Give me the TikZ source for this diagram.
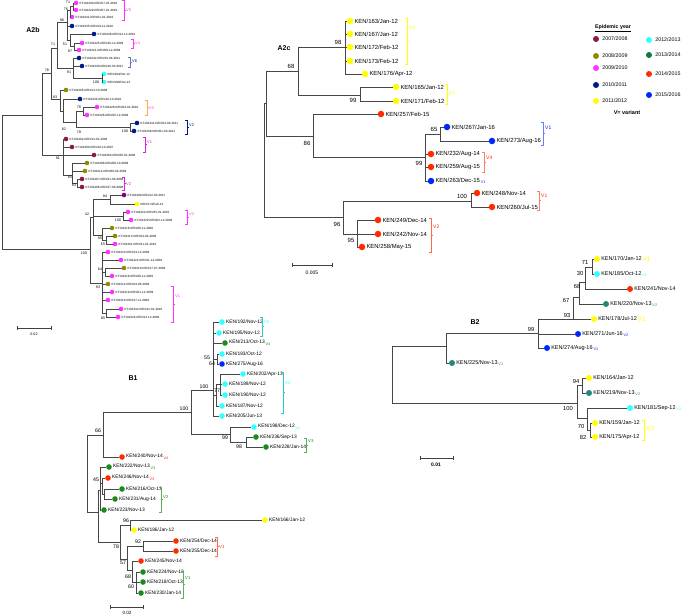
\documentclass[tikz,border=0pt]{standalone}
\usepackage{fontspec}
\setmainfont{Liberation Sans}
\usetikzlibrary{positioning}
\definecolor{yrA}{HTML}{8E1B3F}
\definecolor{yrB}{HTML}{8C8C00}
\definecolor{yrC}{HTML}{FF33FF}
\definecolor{yrD}{HTML}{001A8C}
\definecolor{yrE}{HTML}{FFFF00}
\definecolor{yrF}{HTML}{33FFFF}
\definecolor{yrG}{HTML}{0B7A3A}
\definecolor{yrH}{HTML}{FF2A00}
\definecolor{yrI}{HTML}{0026FF}
\definecolor{yrJ}{HTML}{800080}
\definecolor{grnB}{HTML}{1A8A1A}
\definecolor{tealB}{HTML}{1F8A7A}
\colorlet{brkV1}{yrC!70!yrJ}
\colorlet{brkV3}{orange!70}
\colorlet{brkV6}{yrD!60!white}

% leaf: name, x, y, colour, text
\newcommand{\tleaf}[5]{%
  \node[dot, fill=#4] (#1) at (#2,#3) {};
  \node[lbl, anchor=west] (#1-t) at (#1.east) {#5};}
% variant bracket: name, x, y1, y2, colour, label y, text, text colour
\newcommand{\vbrk}[8]{%
  \draw[brk, #5] (#2-2,#3) -- (#2,#3) -- (#2,#4) -- (#2-2,#4);
  \draw[brk, #5] (#2,{(#3+#4)/2}) -- (#2+2,{(#3+#4)/2});
  \node[vlab, text=#8, anchor=west] (#1) at (#2+1.5,#6) {#7};}
\newcommand{\vsub}[2]{\,\raisebox{-1.6pt}{\fontsize{3.8}{4}\selectfont\textcolor{#1}{#2}}}
\newcommand{\vbig}[2]{\,\raisebox{-1pt}{\fontsize{6.5}{7}\selectfont\textcolor{#1}{#2}}}

\begin{document}
\begin{tikzpicture}[x=1pt, y=-1pt,
    br/.style={draw=black!72, line width=0.55pt},
    dot/.style={circle, inner sep=0pt, minimum size=4.6pt, draw=none},
    lbl/.style={inner sep=0.8pt, font=\fontsize{3.05}{3.4}\selectfont},
    bs/.style={inner sep=0pt, font=\fontsize{3.6}{4}\selectfont},
    brk/.style={line width=0.45pt},
    vlab/.style={inner sep=0.5pt, font=\fontsize{4}{4}\selectfont},
    title/.style={font=\fontsize{7}{8}\selectfont\bfseries},
    sbar/.style={draw=black!75, line width=0.55pt},
    lgt/.style={inner sep=0pt, font=\fontsize{5.3}{6}\selectfont},
  ]
  \useasboundingbox (0,0) rectangle (685,614);

  % ---------------- A2b ----------------
  \node[title] (tA2b) at (33,30) {A2b};
  \tleaf{L1}{76}{3}{yrC}{KT191330-KEN/27-01-2010}
  \tleaf{L2}{76}{10}{yrC}{KT191329-KEN/07-01-2010}
  \tleaf{L3}{72}{17}{yrC}{KT191331-KEN/01-01-2010}
  \tleaf{L4}{72}{26}{yrD}{KT191335-KEN/19-11-2010}
  \tleaf{L5}{94}{34}{yrD}{KT191336-KEN/13-12-2010}
  \tleaf{L6}{82}{43}{yrC}{KT191325-KEN/16-12-2009}
  \tleaf{L7}{79}{50}{yrC}{KT191321-KEN/09-12-2009}
  \tleaf{L8}{79}{58}{yrD}{KT191342-KEN/16-04-2011}
  \tleaf{L9}{82}{66}{yrD}{KT191340-KEN/16-03-2011}
  \tleaf{L10}{104}{74}{yrF}{KEN/184/Oct-12}
  \tleaf{L11}{104}{82}{yrF}{KEN/186/Nov-12}
  \tleaf{L12}{66}{90}{yrB}{KT191305-KEN/13-10-2008}
  \tleaf{L13}{80}{99}{yrD}{KT191334-KEN/16-10-2010}
  \tleaf{L14}{97}{107}{yrC}{KT191328-KEN/04-01-2010}
  \tleaf{L15}{87}{115}{yrC}{KT191326-KEN/25-12-2009}
  \tleaf{L16}{137}{123}{yrD}{KT191341-KEN/24-04-2011}
  \tleaf{L17}{134}{131}{yrD}{KT191339-KEN/01-03-2011}
  \tleaf{L18}{66}{139}{yrA}{KT191302-KEN/13-01-2008}
  \tleaf{L19}{72}{147}{yrA}{KT191300-KEN/18-10-2007}
  \tleaf{L20}{94}{155}{yrA}{KT191303-KEN/26-01-2008}
  \tleaf{L21}{87}{163}{yrB}{KT191308-KEN/06-10-2008}
  \tleaf{L22}{85}{171}{yrB}{KT191312-KEN/09-02-2009}
  \tleaf{L23}{82}{179}{yrA}{KT191307-KEN/31-08-2008}
  \tleaf{L24}{82}{187}{yrA}{KT191306-KEN/27-08-2008}
  \tleaf{L25}{124}{195}{yrJ}{KT191309-KEN/12-03-2011}
  \tleaf{L26}{137}{204}{yrE}{KEN/174/Feb-12}
  \tleaf{L27}{128}{212}{yrC}{KT191322-KEN/25-01-2010}
  \tleaf{L28}{131}{220}{yrC}{KT191320-KEN/02-12-2009}
  \tleaf{L29}{112}{228}{yrB}{KT191316-KEN/06-11-2008}
  \tleaf{L30}{115}{236}{yrB}{KT191313-KEN/24-04-2009}
  \tleaf{L31}{115}{244}{yrC}{KT191301-KEN/21-01-2010}
  \tleaf{L32}{108}{252}{yrC}{KT191323-KEN/13-12-2009}
  \tleaf{L33}{121}{260}{yrC}{KT191322-KEN/11-12-2009}
  \tleaf{L34}{124}{268}{yrB}{KT191319-KEN/17-07-2009}
  \tleaf{L35}{112}{276}{yrC}{KT191318-KEN/26-11-2009}
  \tleaf{L36}{108}{284}{yrB}{KT191314-KEN/24-06-2009}
  \tleaf{L37}{112}{292}{yrC}{KT191319-KEN/01-12-2009}
  \tleaf{L38}{108}{300}{yrC}{KT191318-KEN/17-11-2009}
  \tleaf{L39}{121}{309}{yrC}{KT191332-KEN/12-01-2010}
  \tleaf{L40}{118}{317}{yrC}{KT191324-KEN/13-12-2009}

  \coordinate (ar) at (2,182);
  \coordinate (aU) at (42,115);
  \coordinate (a78) at (51,73);
  \coordinate (a71) at (57,48);
  \coordinate (a98) at (67,22);
  \coordinate (a76) at (70,10);
  \coordinate (a71t) at (73,6);
  \coordinate (a51) at (70,40);
  \coordinate (a97) at (74,46);
  \coordinate (a91b) at (73,68);
  \coordinate (a100c) at (102,78);
  \coordinate (a83) at (60,99);
  \coordinate (a82) at (63,111);
  \coordinate (a78c) at (76,122);
  \coordinate (a76b) at (83,111);
  \coordinate (a100d) at (130,127);
  \coordinate (a91) at (63,155);
  \coordinate (a85) at (72,175);
  \coordinate (a83b) at (77,183);
  \coordinate (aL) at (90,249);
  \coordinate (a42) at (93,217);
  \coordinate (a94) at (110,199);
  \coordinate (a100e) at (123,216);
  \coordinate (a95) at (102,235);
  \coordinate (a65) at (106,240);
  \coordinate (a93) at (102,283);
  \coordinate (a64) at (105,272);
  \coordinate (a85b) at (106,313);

  \draw[br] (ar) |- (aU) (ar) |- (aL);
  \draw[br] (aU) |- (a78) (aU) |- (a91);
  \draw[br] (a78) |- (a71) (a78) |- (a83);
  \draw[br] (a71) |- (a98) (a71) |- (a91b);
  \draw[br] (a98) |- (a76) (a98) |- (L4) (a98) |- (a51);
  \draw[br] (a76) |- (a71t) (a76) |- (L3);
  \draw[br] (a71t) |- (L1) (a71t) |- (L2);
  \draw[br] (a51) |- (L5) (a51) |- (a97);
  \draw[br] (a97) |- (L6) (a97) |- (L7);
  \draw[br] (a91b) |- (L8) (a91b) |- (L9) (a91b) |- (a100c);
  \draw[br] (a100c) |- (L10) (a100c) |- (L11);
  \draw[br] (a83) |- (L12) (a83) |- (a82);
  \draw[br] (a82) |- (L13) (a82) |- (a78c);
  \draw[br] (a78c) |- (a76b) (a78c) |- (a100d);
  \draw[br] (a76b) |- (L14) (a76b) |- (L15);
  \draw[br] (a100d) |- (L16) (a100d) |- (L17);
  \draw[br] (a91) |- (L18) (a91) |- (L19) (a91) |- (L20) (a91) |- (a85);
  \draw[br] (a85) |- (L21) (a85) |- (L22) (a85) |- (a83b);
  \draw[br] (a83b) |- (L23) (a83b) |- (L24);
  \draw[br] (aL) |- (a42) (aL) |- (a93);
  \draw[br] (a42) |- (a94) (a42) |- (a100e) (a42) |- (a95);
  \draw[br] (a94) |- (L25) (a94) |- (L26);
  \draw[br] (a100e) |- (L27) (a100e) |- (L28);
  \draw[br] (a95) |- (L29) (a95) |- (a65);
  \draw[br] (a65) |- (L30) (a65) |- (L31);
  \draw[br] (a93) |- (L32) (a93) |- (L33) (a93) |- (a64) (a93) |- (L36)
            (a93) |- (L37) (a93) |- (L38) (a93) |- (a85b);
  \draw[br] (a64) |- (L34) (a64) |- (L35);
  \draw[br] (a85b) |- (L39) (a85b) |- (L40);

  % bootstrap values
  \node[bs] (s1) at (68,2) {71};
  \node[bs] (s2) at (66,9) {76};
  \node[bs] (s3) at (62,20) {98};
  \node[bs] (s4) at (65,44) {51};
  \node[bs] (s5) at (70,51) {97};
  \node[bs] (s6) at (53,44) {71};
  \node[bs] (s7) at (47,70) {78};
  \node[bs] (s8) at (69,72) {91};
  \node[bs] (s9) at (96,82) {100};
  \node[bs] (s10) at (55,97) {83};
  \node[bs] (s11) at (79,107) {76};
  \node[bs] (s12) at (64,129) {82};
  \node[bs] (s13) at (79,132) {78};
  \node[bs] (s14) at (125,131) {100};
  \node[bs] (s15) at (58,158) {91};
  \node[bs] (s16) at (70,177) {85};
  \node[bs] (s17) at (74,185) {83};
  \node[bs] (s18) at (105,196) {94};
  \node[bs] (s19) at (87,214) {42};
  \node[bs] (s20) at (118,220) {100};
  \node[bs] (s21) at (100,238) {95};
  \node[bs] (s22) at (103,244) {65};
  \node[bs] (s23) at (84,253) {100};
  \node[bs] (s24) at (100,269) {64};
  \node[bs] (s25) at (98,287) {93};
  \node[bs] (s26) at (103,318) {85};

  \vbrk{v1}{124}{0}{20}{yrC}{10}{V5}{yrC}
  \vbrk{v2}{133}{39}{48}{yrC}{43}{V4}{yrC}
  \vbrk{v3}{130}{57}{67}{brkV6}{61}{V6}{yrD}
  \vbrk{v4}{147}{100}{115}{brkV3}{108}{V3}{yrC}
  \vbrk{v5}{187}{120}{134}{yrD}{125}{V2}{yrD}
  \vbrk{v6}{145}{137}{152}{brkV1}{142}{V1}{brkV1}
  \vbrk{v7}{124}{177}{190}{brkV1}{184}{V2}{brkV1}
  \vbrk{v8}{187}{210}{224}{yrC}{214}{V2}{yrC}
  \vbrk{v9}{173}{286}{322}{yrC}{296}{V1}{yrC}

  \draw[sbar] (17,326) -- (17,330) (17,328) -- (51,328) (51,326) -- (51,330);
  \node[bs] (sb1) at (34,334) {0.02};

  % ---------------- A2c ----------------
  \begin{scope}[dot/.append style={minimum size=6.5pt},
      lbl/.style={inner sep=0.9pt, font=\fontsize{5.9}{6.5}\selectfont},
      bs/.style={inner sep=0pt, font=\fontsize{6}{7}\selectfont},
      vlab/.style={inner sep=0.5pt, font=\fontsize{5}{5}\selectfont}]
    \node[title] (tA2c) at (284,48) {A2c};
    \tleaf{K163}{350}{21}{yrE}{KEN/163/Jan-12}
    \tleaf{K167}{350}{34}{yrE}{KEN/167/Jan-12}
    \tleaf{K172}{350}{47}{yrE}{KEN/172/Feb-12}
    \tleaf{K173}{350}{61}{yrE}{KEN/173/Feb-12}
    \tleaf{K176}{365}{74}{yrE}{KEN/176/Apr-12}
    \tleaf{K165}{396}{87}{yrE}{KEN/165/Jan-12}
    \tleaf{K171}{396}{101}{yrE}{KEN/171/Feb-12}
    \tleaf{K257}{381}{114}{yrH}{KEN/257/Feb-15}
    \tleaf{K267}{447}{127}{yrI}{KEN/267/Jan-16}
    \tleaf{K273}{492}{141}{yrI}{KEN/273/Aug-16}
    \tleaf{K232}{431}{154}{yrH}{KEN/232/Aug-14}
    \tleaf{K259}{431}{167}{yrH}{KEN/259/Aug-15}
    \tleaf{K263}{431}{181}{yrI}{KEN/263/Dec-15\vsub{yrI}{V1}}
    \tleaf{K248}{477}{193}{yrH}{KEN/248/Nov-14}
    \tleaf{K260}{492}{207}{yrH}{KEN/260/Jul-15}
    \tleaf{K249}{378}{220}{yrH}{KEN/249/Dec-14}
    \tleaf{K242}{378}{234}{yrH}{KEN/242/Nov-14}
    \tleaf{K258}{362}{247}{yrH}{KEN/258/May-15}

    \coordinate (cr) at (264,160);
    \coordinate (cU) at (266,103);
    \coordinate (c68) at (298,71);
    \coordinate (c98) at (345,47);
    \coordinate (c99) at (360,95);
    \coordinate (c86) at (313,136);
    \coordinate (c99b) at (425,157);
    \coordinate (c65) at (440,134);
    \coordinate (c96) at (343,217);
    \coordinate (c100) at (471,201);
    \coordinate (c95) at (357,234);

    \draw[br] (cr) |- (cU) (cr) |- (c96);
    \draw[br] (cU) |- (c68) (cU) |- (c86);
    \draw[br] (c68) |- (c98) (c68) |- (c99);
    \draw[br] (c98) |- (K163) (c98) |- (K167) (c98) |- (K172) (c98) |- (K173) (c98) |- (K176);
    \draw[br] (c99) |- (K165) (c99) |- (K171);
    \draw[br] (c86) |- (K257) (c86) |- (c99b);
    \draw[br] (c99b) |- (c65) (c99b) |- (K232) (c99b) |- (K259) (c99b) |- (K263);
    \draw[br] (c65) |- (K267) (c65) |- (K273);
    \draw[br] (c96) |- (c100) (c96) |- (c95);
    \draw[br] (c100) |- (K248) (c100) |- (K260);
    \draw[br] (c95) |- (K249) (c95) |- (K242) (c95) |- (K258);

    \node[bs] (cs1) at (338,42) {98};
    \node[bs] (cs2) at (291,66) {68};
    \node[bs] (cs3) at (353,100) {99};
    \node[bs] (cs4) at (307,143) {86};
    \node[bs] (cs5) at (434,129) {65};
    \node[bs] (cs6) at (419,163) {99};
    \node[bs] (cs7) at (462,196) {100};
    \node[bs] (cs8) at (337,224) {96};
    \node[bs] (cs9) at (351,240) {95};

    \vbrk{w1}{407}{18}{64}{yrE}{28}{V2}{yrE}
    \vbrk{w2}{447}{84}{104}{yrE}{93}{V1}{yrE}
    \vbrk{w3}{543}{122}{145}{yrI!60}{128}{V1}{yrI}
    \vbrk{w4}{484}{152}{172}{yrH!60}{158}{V4}{yrH}
    \vbrk{w5}{539}{191}{210}{yrH!60}{196}{V1}{yrH}
    \vbrk{w6}{431}{218}{252}{yrH!70}{227}{V2}{yrH}

    \draw[sbar] (292,263) -- (292,267) (292,265) -- (332,265) (332,263) -- (332,267);
    \node[bs, font=\fontsize{5}{6}\selectfont] (sb2) at (312,273) {0.005};
  \end{scope}

  % ---------------- legend ----------------
  \node[lgt, font=\fontsize{5.3}{6}\selectfont\bfseries] (lg) at (613,28) {\underline{Epidemic year}};
  \node[dot, minimum size=6pt, fill=yrA] (g1) at (596,39) {};
  \node[lgt, right=3pt of g1] (g1t) {2007/2008};
  \node[dot, minimum size=6pt, fill=yrB] (g2) at (596,56) {};
  \node[lgt, right=3pt of g2] (g2t) {2008/2009};
  \node[dot, minimum size=6pt, fill=yrC] (g3) at (596,68) {};
  \node[lgt, right=3pt of g3] (g3t) {2009/2010};
  \node[dot, minimum size=6pt, fill=yrD] (g4) at (596,85) {};
  \node[lgt, right=3pt of g4] (g4t) {2010/2011};
  \node[dot, minimum size=6pt, fill=yrE] (g5) at (596,101) {};
  \node[lgt, right=3pt of g5] (g5t) {2011/2012};
  \node[dot, minimum size=6pt, fill=yrF] (g6) at (649,40) {};
  \node[lgt, right=3pt of g6] (g6t) {2012/2013};
  \node[dot, minimum size=6pt, fill=yrG] (g7) at (649,55) {};
  \node[lgt, right=3pt of g7] (g7t) {2013/2014};
  \node[dot, minimum size=6pt, fill=yrH] (g8) at (649,74) {};
  \node[lgt, right=3pt of g8] (g8t) {2014/2015};
  \node[dot, minimum size=6pt, fill=yrI] (g9) at (649,95) {};
  \node[lgt, right=3pt of g9] (g9t) {2015/2016};
  \node[lgt, font=\fontsize{5.5}{6}\selectfont\bfseries] (vv) at (627,113) {V= variant};

  % ---------------- B1 ----------------
  \begin{scope}[dot/.append style={minimum size=5.6pt},
      lbl/.style={inner sep=0.9pt, font=\fontsize{4.9}{5.5}\selectfont},
      bs/.style={inner sep=0pt, font=\fontsize{5.2}{6}\selectfont},
      vlab/.style={inner sep=0.5pt, font=\fontsize{4.3}{5}\selectfont}]
    \node[title] (tB1) at (133,378) {B1};
    \tleaf{B192}{222}{322}{yrF}{KEN/192/Nov-12}
    \tleaf{B195}{219}{333}{yrF}{KEN/195/Nov-12}
    \tleaf{B213}{225}{343}{grnB}{KEN/213/Oct-13\vsub{grnB}{V4}}
    \tleaf{B183}{222}{354}{yrF}{KEN/183/Oct-12}
    \tleaf{B275}{222}{364}{yrI}{KEN/275/Aug-16}
    \tleaf{B202}{243}{374}{yrF}{KEN/202/Apr-13}
    \tleaf{B189}{225}{384}{yrF}{KEN/189/Nov-12}
    \tleaf{B190}{225}{395}{yrF}{KEN/190/Nov-12}
    \tleaf{B187}{222}{406}{yrF}{KEN/187/Nov-12}
    \tleaf{B205}{222}{416}{yrF}{KEN/205/Jun-13}
    \tleaf{B198}{254}{427}{yrF}{KEN/198/Dec-12\vsub{yrF}{V1}}
    \tleaf{B236}{256}{437}{grnB}{KEN/236/Sep-13}
    \tleaf{B228}{266}{447}{grnB}{KEN/228/Jan-14}
    \tleaf{B240}{122}{457}{yrH}{KEN/240/Nov-14\vsub{yrH}{V4}}
    \tleaf{B222}{109}{467}{grnB}{KEN/222/Nov-13\vsub{grnB}{V3}}
    \tleaf{B246}{108}{478}{yrH}{KEN/246/Nov-14\vsub{yrH}{V3}}
    \tleaf{B216}{122}{489}{grnB}{KEN/216/Oct-13}
    \tleaf{B231}{115}{499}{grnB}{KEN/231/Aug-14}
    \tleaf{B223}{104}{510}{grnB}{KEN/223/Nov-13}
    \tleaf{B166}{265}{520}{yrE}{KEN/166/Jan-12}
    \tleaf{B186}{134}{530}{yrE}{KEN/186/Jan-12}
    \tleaf{B254}{176}{541}{yrH}{KEN/254/Dec-14}
    \tleaf{B255}{176}{551}{yrH}{KEN/255/Dec-14}
    \tleaf{B245}{141}{561}{yrH}{KEN/245/Nov-14}
    \tleaf{B224}{143}{572}{grnB}{KEN/224/Nov-13}
    \tleaf{B218}{143}{582}{grnB}{KEN/218/Oct-13}
    \tleaf{B230}{141}{593}{grnB}{KEN/230/Jan-14}

    \coordinate (br0) at (87,474);
    \coordinate (b66) at (103,435);
    \coordinate (b100b) at (191,412);
    \coordinate (b100a) at (213,390);
    \coordinate (b64) at (217,359);
    \coordinate (b77) at (216,395);
    \coordinate (b222) at (220,384);
    \coordinate (b99) at (230,434);
    \coordinate (b98) at (246,442);
    \coordinate (bx) at (98,512);
    \coordinate (b45) at (100,490);
    \coordinate (b45b) at (102,483);
    \coordinate (b45c) at (104,494);
    \coordinate (b78) at (120,542);
    \coordinate (b96) at (130,525);
    \coordinate (b57) at (127,559);
    \coordinate (b92) at (143,546);
    \coordinate (b68) at (132,570);
    \coordinate (b60) at (136,582);

    \draw[br] (br0) |- (b66) (br0) |- (bx);
    \draw[br] (b66) |- (b100b) (b66) |- (B240);
    \draw[br] (b100b) |- (b100a) (b100b) |- (b99);
    \draw[br] (b100a) |- (B192) (b100a) |- (B195) (b100a) |- (B213) (b100a) |- (b64)
              (b100a) |- (b77) (b100a) |- (B205);
    \draw[br] (b64) |- (B183) (b64) |- (B275);
    \draw[br] (b77) |- (b222) (b77) |- (B187);
    \draw[br] (b222) |- (B202) (b222) |- (B189) (b222) |- (B190);
    \draw[br] (b99) |- (B198) (b99) |- (b98);
    \draw[br] (b98) |- (B236) (b98) |- (B228);
    \draw[br] (bx) |- (b45) (bx) |- (b78);
    \draw[br] (b45) |- (B222) (b45) |- (b45b) (b45) |- (B223);
    \draw[br] (b45b) |- (B246) (b45b) |- (b45c);
    \draw[br] (b45c) |- (B216) (b45c) |- (B231);
    \draw[br] (b78) |- (b96) (b78) |- (b57);
    \draw[br] (b96) |- (B166) (b96) |- (B186);
    \draw[br] (b57) |- (b92) (b57) |- (b68);
    \draw[br] (b92) |- (B254) (b92) |- (B255);
    \draw[br] (b68) |- (B245) (b68) |- (b60);
    \draw[br] (b60) |- (B224) (b60) |- (B218) (b60) |- (B230);

    \node[bs] (bs1) at (207,358) {55};
    \node[bs] (bs2) at (212,364) {64};
    \node[bs] (bs3) at (204,387) {100};
    \node[bs] (bs4) at (217,391) {77};
    \node[bs] (bs5) at (184,409) {100};
    \node[bs] (bs6) at (225,438) {99};
    \node[bs] (bs7) at (239,447) {98};
    \node[bs] (bs8) at (98,431) {66};
    \node[bs] (bs9) at (96,480) {45};
    \node[bs] (bs10) at (126,521) {96};
    \node[bs] (bs11) at (138,542) {92};
    \node[bs] (bs12) at (116,547) {78};
    \node[bs] (bs13) at (123,563) {57};
    \node[bs] (bs14) at (128,577) {68};
    \node[bs] (bs15) at (131,587) {60};

    \vbrk{u1}{262}{317}{336}{yrF!80!black}{322}{V2}{yrF}
    \vbrk{u2}{283}{372}{413}{yrF!80!black}{383}{V2}{yrF}
    \vbrk{u3}{306}{438}{452}{grnB!70}{441}{V3}{grnB}
    \vbrk{u4}{161}{487}{512}{grnB!70}{497}{V2}{grnB}
    \vbrk{u5}{217}{537}{556}{yrH!70}{547}{V1}{yrH}
    \vbrk{u6}{183}{571}{598}{grnB!70}{578}{V1}{grnB}

    \draw[sbar] (110,605) -- (110,609) (110,607) -- (143,607) (143,605) -- (143,609);
    \node[bs, font=\fontsize{4.6}{5}\selectfont] (sb3) at (127,612.5) {0.02};
  \end{scope}

  % ---------------- B2 ----------------
  \begin{scope}[dot/.append style={minimum size=6pt},
      lbl/.style={inner sep=0.9pt, font=\fontsize{5.5}{6}\selectfont},
      bs/.style={inner sep=0pt, font=\fontsize{5.8}{6.5}\selectfont},
      vlab/.style={inner sep=0.5pt, font=\fontsize{6.5}{7}\selectfont}]
    \node[title] (tB2) at (475,322) {B2};
    \tleaf{K170}{597}{259}{yrE}{KEN/170/Jan-12\vbig{yrE}{V1}}
    \tleaf{K185}{597}{274}{yrF}{KEN/185/Oct-12\vsub{yrF}{V1}}
    \tleaf{K241}{630}{289}{yrH}{KEN/241/Nov-14}
    \tleaf{K220}{606}{304}{tealB}{KEN/220/Nov-13\vsub{tealB}{V2}}
    \tleaf{K178}{594}{319}{yrE}{KEN/178/Jul-12\vbig{yrE}{V1}}
    \tleaf{K271}{578}{334}{yrI}{KEN/271/Jun-16\vsub{yrI}{V2}}
    \tleaf{K274}{547}{348}{yrI}{KEN/274/Aug-16\vsub{yrI}{V1}}
    \tleaf{K225}{452}{363}{tealB}{KEN/225/Nov-13\vsub{tealB}{V1}}
    \tleaf{K164}{589}{378}{yrE}{KEN/164/Jan-12}
    \tleaf{K219}{589}{393}{tealB}{KEN/219/Nov-13\vsub{tealB}{V2}}
    \tleaf{K181}{630}{408}{yrF}{KEN/181/Sep-12\vsub{yrF}{V2}}
    \tleaf{K159}{595}{423}{yrE}{KEN/159/Jan-12}
    \tleaf{K175}{595}{437}{yrE}{KEN/175/Apr-12}

    \coordinate (dr) at (392,375);
    \coordinate (d446) at (446,346);
    \coordinate (d99) at (538,333);
    \coordinate (d93) at (573,319);
    \coordinate (d67) at (579,297);
    \coordinate (d68) at (585,282);
    \coordinate (d71) at (592,267);
    \coordinate (d100) at (577,403);
    \coordinate (d94) at (582,385);
    \coordinate (d70) at (587,418);
    \coordinate (d82) at (590,430);

    \draw[br] (dr) |- (d446) (dr) |- (d100);
    \draw[br] (d446) |- (d99) (d446) |- (K225);
    \draw[br] (d99) |- (d93) (d99) |- (K271) (d99) |- (K274);
    \draw[br] (d93) |- (d67) (d93) |- (K178);
    \draw[br] (d67) |- (d68) (d67) |- (K220);
    \draw[br] (d68) |- (d71) (d68) |- (K241);
    \draw[br] (d71) |- (K170) (d71) |- (K185);
    \draw[br] (d100) |- (d94) (d100) |- (d70);
    \draw[br] (d94) |- (K164) (d94) |- (K219);
    \draw[br] (d70) |- (K181) (d70) |- (d82);
    \draw[br] (d82) |- (K159) (d82) |- (K175);

    \node[bs] (ds1) at (585,262) {71};
    \node[bs] (ds2) at (580,273) {30};
    \node[bs] (ds3) at (577,286) {68};
    \node[bs] (ds4) at (566,300) {67};
    \node[bs] (ds5) at (567,315) {93};
    \node[bs] (ds6) at (531,329) {99};
    \node[bs] (ds7) at (576,381) {94};
    \node[bs] (ds8) at (568,408) {100};
    \node[bs] (ds9) at (581,426) {70};
    \node[bs] (ds10) at (583,437) {82};

    \vbrk{x1}{644}{420}{440}{yrE}{428}{V2}{yrE}

    \draw[sbar] (420,456) -- (420,460) (420,458) -- (453,458) (453,456) -- (453,460);
    \node[bs, font=\fontsize{5}{6}\selectfont\bfseries] (sb4) at (436,465) {0.01};
  \end{scope}
\end{tikzpicture}
\end{document}
